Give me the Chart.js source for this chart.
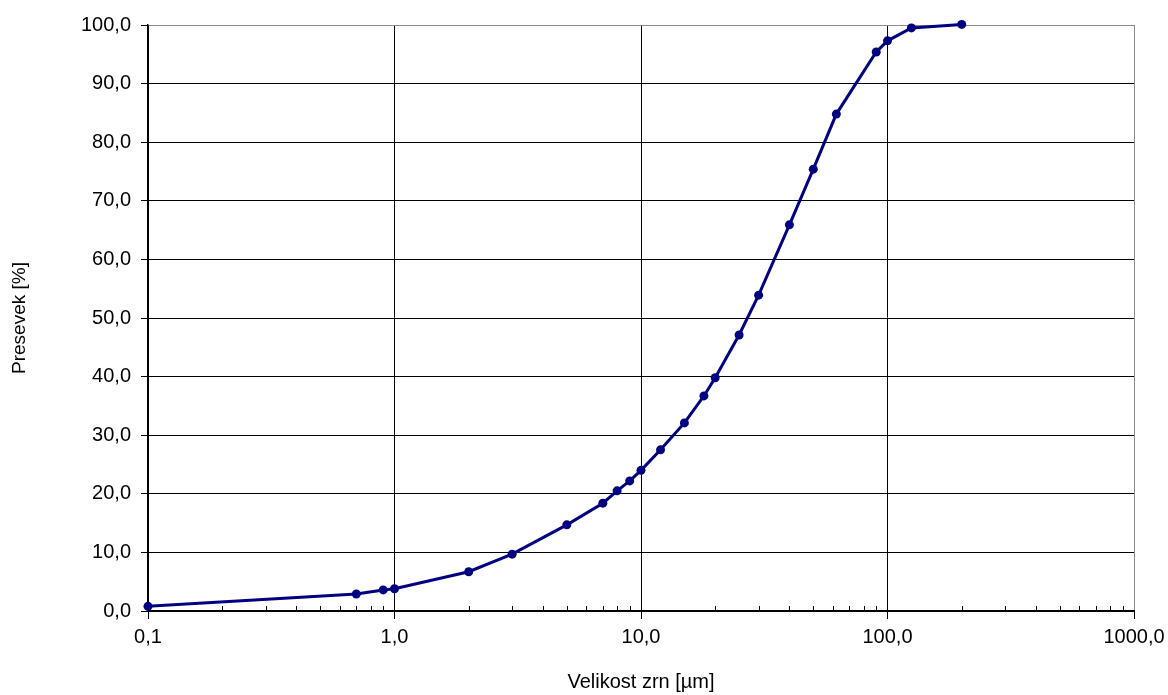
<!DOCTYPE html>
<html>
<head>
    <meta charset="UTF-8">
    <title>Zrnavost</title>
    <script src="https://cdn.jsdelivr.net/npm/chart.js@4.4.1/dist/chart.umd.min.js"></script>
    <style>
        html, body { margin: 0; padding: 0; background: #fff; }
        #wrap { width: 1168px; height: 695px; }
    </style>
</head>
<body>
    <div id="wrap"><canvas id="grainChart"></canvas></div>

    <script>
        // grain size [µm] and cumulative passing [%]
        var grainSize = [0.1, 0.7, 0.9, 1, 2, 3, 5, 7, 8, 9, 10, 12, 15, 18, 20, 25, 30, 40, 50, 62, 90, 100, 125, 200];
        var passing = [0.8, 2.9, 3.6, 3.8, 6.7, 9.7, 14.7, 18.4, 20.5, 22.2, 24.0, 27.5, 32.1, 36.7, 39.8, 47.1, 53.9, 65.9, 75.4, 84.8, 95.4, 97.3, 99.5, 100.1];
        var decades = [0.1, 1, 10, 100, 1000];

        var fontFamily = "'Liberation Sans', Arial, sans-serif";
        var navy = '#000080';

        function isDecade(v) {
            return decades.some(function (d) { return Math.abs(v - d) < d * 1e-6; });
        }

        function fmt(v) {
            return v.toFixed(1).replace('.', ',');
        }

        // small inward ticks between decades on the bottom axis
        var minorTicks = {
            id: 'minorTicks',
            afterDraw: function (chart) {
                var x = chart.scales.x;
                var ctx = chart.ctx;
                var bottom = chart.chartArea.bottom;
                ctx.save();
                ctx.strokeStyle = '#000';
                ctx.lineWidth = 1;
                x.ticks.forEach(function (t) {
                    if (isDecade(t.value)) return;
                    var px = Math.round(x.getPixelForValue(t.value)) + 0.5;
                    ctx.beginPath();
                    ctx.moveTo(px, bottom);
                    ctx.lineTo(px, bottom - 5);
                    ctx.stroke();
                });
                ctx.restore();
            }
        };

        var points = grainSize.map(function (g, i) { return { x: g, y: passing[i] }; });

        new Chart(document.getElementById('grainChart'), {
            type: 'scatter',
            data: {
                datasets: [{
                    data: points,
                    showLine: true,
                    borderColor: navy,
                    backgroundColor: navy,
                    borderWidth: 3,
                    pointRadius: 4.5,
                    pointBackgroundColor: navy,
                    pointBorderColor: navy,
                    pointBorderWidth: 0,
                    clip: false
                }]
            },
            options: {
                responsive: true,
                maintainAspectRatio: false,
                animation: false,
                layout: { padding: { top: 25, right: 34, left: 0, bottom: 0 } },
                plugins: {
                    legend: { display: false },
                    tooltip: { enabled: false }
                },
                scales: {
                    x: {
                        type: 'logarithmic',
                        min: 0.1,
                        max: 1000,
                        afterBuildTicks: function (scale) {
                            var ticks = [];
                            for (var e = -1; e < 3; e++) {
                                for (var m = 1; m < 10; m++) {
                                    ticks.push({ value: m * Math.pow(10, e) });
                                }
                            }
                            ticks.push({ value: 1000 });
                            scale.ticks = ticks;
                        },
                        afterFit: function (scale) {
                            scale.height = 84;
                            scale.paddingLeft = 0;
                            scale.paddingRight = 0;
                        },
                        ticks: {
                            autoSkip: false,
                            maxRotation: 0,
                            padding: 6,
                            color: '#000',
                            font: { family: fontFamily, size: 20 },
                            callback: function (v) { return isDecade(v) ? fmt(v) : ''; }
                        },
                        grid: {
                            lineWidth: 1,
                            tickLength: 8,
                            color: function (c) {
                                if (!c.tick) return 'transparent';
                                if (Math.abs(c.tick.value - 1000) < 1e-6) return '#8c8c8c';
                                return isDecade(c.tick.value) ? '#000' : 'transparent';
                            },
                            tickColor: function (c) {
                                return c.tick && isDecade(c.tick.value) ? '#000' : 'transparent';
                            }
                        },
                        border: { display: true, color: '#000', width: 2 },
                        title: {
                            display: true,
                            text: 'Velikost zrn [µm]',
                            color: '#000',
                            font: { family: fontFamily, size: 20 },
                            padding: { top: 0, bottom: 1 }
                        }
                    },
                    y: {
                        min: 0,
                        max: 100,
                        afterFit: function (scale) { scale.width = 148; },
                        ticks: {
                            stepSize: 10,
                            padding: 10,
                            color: '#000',
                            font: { family: fontFamily, size: 20 },
                            callback: function (v) { return fmt(v); }
                        },
                        grid: {
                            lineWidth: 1,
                            tickLength: 7,
                            color: function (c) {
                                return c.tick && c.tick.value === 100 ? '#8c8c8c' : '#000';
                            },
                            tickColor: '#000'
                        },
                        border: { display: true, color: '#000', width: 1.5 },
                        title: {
                            display: true,
                            text: 'Presevek [%]',
                            color: '#000',
                            font: { family: fontFamily, size: 19 },
                            padding: { top: 8, bottom: 0 }
                        }
                    }
                }
            },
            plugins: [minorTicks]
        });
    </script>
</body>
</html>
